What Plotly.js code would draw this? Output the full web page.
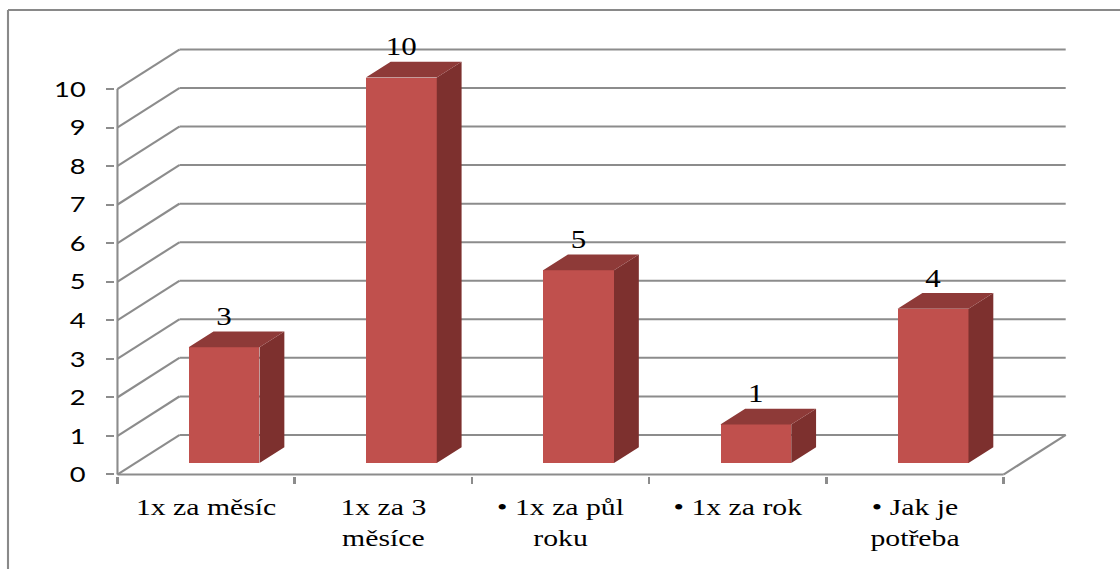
<!DOCTYPE html>
<html>
<head>
<meta charset="utf-8">
<script src="https://cdn.plot.ly/plotly-3.0.1.min.js"></script>
<style>
  html, body { margin: 0; padding: 0; background: #fff; overflow: hidden; }
  /* the chart is laid out narrow and widened horizontally, like a stretched Excel picture */
  #chart { width: 903px; height: 569px; transform: scaleX(1.2403); transform-origin: 0 0; }
</style>
</head>
<body>
<div id="chart"></div>
<script>
// ---- data ----
const categories = ['1x za měsíc', '1x za 3 měsíce', '• 1x za půl roku', '• 1x za rok', '• Jak je potřeba'];
const tickLabels = ['1x za měsíc', '1x za 3<br>měsíce', '• 1x za půl<br>roku', '• 1x za rok', '• Jak je<br>potřeba'];
const counts = [3, 10, 5, 1, 4];
const yTicks = [0, 1, 2, 3, 4, 5, 6, 7, 8, 9, 10];

// ---- 3D look: offsets of the back wall, in axis units ----
const DX = 0.35;      // horizontal depth (category units)
const DY = 1.025;     // vertical depth (value units)
const FRONT = 0.29;   // depth fraction where the bar front face sits
const BACK = 0.69;    // depth fraction of the bar back face
const BAR_W = 0.4;    // bar width (category units)

const COL_FRONT = '#C0504D';
const COL_SIDE = '#7D302E';
const COL_TOP = '#8E3A38';
const GRID = '#8C8C8C';
const SERIF = 'Liberation Serif';
const SANS = 'Lato';

const W = 903, H = 569;
const M = { l: 93, r: 42, t: 38, b: 93 };
const plotW = W - M.l - M.r, plotH = H - M.t - M.b;
const paperX = px => (px - M.l) / plotW;
const paperY = py => (H - M.b - py) / plotH;

const n = categories.length;
const centers = categories.map((_, i) => i + 0.5);
const fdx = FRONT * DX, fdy = FRONT * DY;
const ddx = (BACK - FRONT) * DX, ddy = (BACK - FRONT) * DY;

// front faces
const frontX = centers.map(c => c + fdx);

// side and top faces as polygons separated by gaps
const sideX = [], sideY = [], topX = [], topY = [];
counts.forEach((v, i) => {
  const xr = frontX[i] + BAR_W / 2, xl = frontX[i] - BAR_W / 2;
  const y0 = fdy, y1 = fdy + v;
  sideX.push(xr, xr + ddx, xr + ddx, xr, null);
  sideY.push(y0, y0 + ddy, y1 + ddy, y1, null);
  topX.push(xl, xr, xr + ddx, xl + ddx, null);
  topY.push(y1, y1, y1 + ddy, y1 + ddy, null);
});

const traces = [
  {
    type: 'bar', x: frontX, y: counts, base: fdy, width: BAR_W,
    marker: { color: COL_FRONT, line: { width: 0 } },
    hoverinfo: 'skip', showlegend: false
  },
  {
    type: 'scatter', mode: 'lines', x: sideX, y: sideY, fill: 'toself',
    fillcolor: COL_SIDE, line: { width: 0, color: COL_SIDE },
    hoverinfo: 'skip', showlegend: false
  },
  {
    type: 'scatter', mode: 'lines', x: topX, y: topY, fill: 'toself',
    fillcolor: COL_TOP, line: { width: 0, color: COL_TOP },
    hoverinfo: 'skip', showlegend: false
  },
  {
    // value labels above each bar
    type: 'scatter', mode: 'text',
    x: frontX, y: counts.map(v => fdy + v + ddy),
    text: counts.map(String), textposition: 'top center',
    textfont: { family: SERIF, size: 25, color: '#000' },
    cliponaxis: false, hoverinfo: 'skip', showlegend: false
  },
  {
    // front edge of the floor, carries the category tick marks
    type: 'scatter', mode: 'lines', xaxis: 'x2',
    x: [0, n], y: [0, 0], line: { color: GRID, width: 2 },
    hoverinfo: 'skip', showlegend: false
  }
];

// gridlines: left side wall diagonal + back wall horizontal
const shapes = [];
yTicks.forEach(t => {
  shapes.push({ type: 'line', layer: 'below', xref: 'x', yref: 'y',
    x0: 0, y0: t, x1: DX, y1: t + DY, line: { color: GRID, width: 2 } });
  shapes.push({ type: 'line', layer: 'below', xref: 'x', yref: 'y',
    x0: DX, y0: t + DY, x1: n + DX, y1: t + DY, line: { color: GRID, width: 2 } });
});
// right edge of the floor
shapes.push({ type: 'line', layer: 'below', xref: 'x', yref: 'y',
  x0: n, y0: 0, x1: n + DX, y1: DY, line: { color: GRID, width: 2 } });
// value axis line
shapes.push({ type: 'line', layer: 'below', xref: 'x', yref: 'y',
  x0: 0, y0: 0, x1: 0, y1: yTicks[yTicks.length - 1], line: { color: GRID, width: 1.7 } });
// chart frame (top and left edges)
shapes.push({ type: 'line', layer: 'above', xref: 'paper', yref: 'paper',
  x0: paperX(6.45), y0: paperY(10), x1: paperX(W + 20), y1: paperY(10), line: { color: '#898989', width: 2 } });
shapes.push({ type: 'line', layer: 'above', xref: 'paper', yref: 'paper',
  x0: paperX(6.45), y0: paperY(10), x1: paperX(6.45), y1: paperY(H + 20), line: { color: '#898989', width: 1.7 } });

const xRange = [-0.012, -0.012 + plotW / 142.9];
const yRange = [-0.04, -0.04 + plotH / 38.55];

const layout = {
  width: W, height: H, autosize: false,
  margin: M,
  paper_bgcolor: '#fff', plot_bgcolor: '#fff',
  showlegend: false,
  bargap: 0,
  shapes: shapes,
  xaxis: {
    range: xRange, showgrid: false, zeroline: false, showline: false,
    tickmode: 'array', tickvals: centers, ticktext: tickLabels, ticks: '',
    ticklabelstandoff: 14,
    tickfont: { family: SERIF, size: 24, color: '#000' },
    fixedrange: true
  },
  xaxis2: {
    overlaying: 'x', range: xRange,
    showgrid: false, zeroline: false, showline: false,
    tickmode: 'array', tickvals: categories.map((_, i) => i).concat([n]),
    ticks: 'outside', ticklen: 7, tickwidth: 1.6, tickcolor: GRID,
    showticklabels: false, fixedrange: true
  },
  yaxis: {
    range: yRange, showgrid: false, zeroline: false, showline: false,
    tickmode: 'array', tickvals: yTicks, ticktext: yTicks.map(String),
    ticks: 'outside', ticklen: 6.5, tickwidth: 2, tickcolor: GRID,
    ticklabelstandoff: 12,
    tickfont: { family: SANS, size: 22, color: '#000' },
    fixedrange: true
  }
};

Plotly.newPlot('chart', traces, layout, { displayModeBar: false });
</script>
</body>
</html>
